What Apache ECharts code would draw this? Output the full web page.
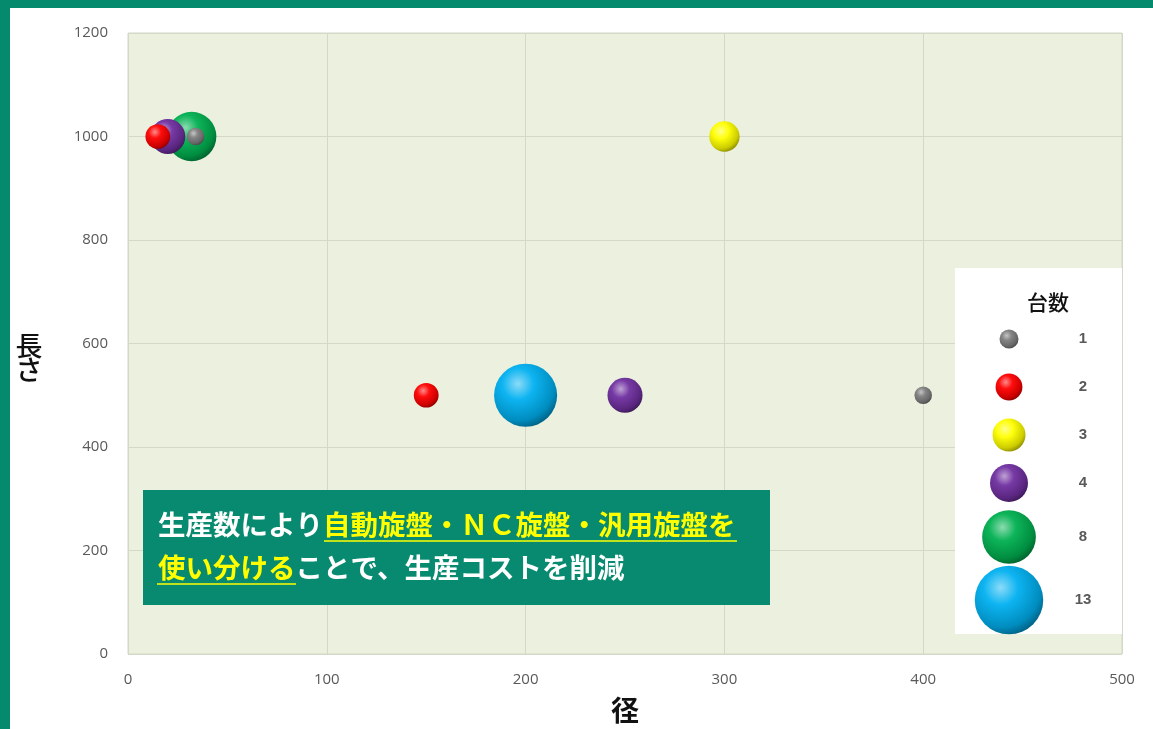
<!DOCTYPE html>
<html>
<head>
<meta charset="utf-8">
<script src="https://cdn.jsdelivr.net/npm/echarts@6/dist/echarts.min.js"></script>
<style>
html,body{margin:0;padding:0;background:#fff;}
#c{width:1153px;height:729px;}
</style>
</head>
<body>
<div id="c"></div>
<script>
// ---- data ----
const diameters = [32, 20, 15, 34, 300, 200, 250, 150, 400];      // 径
const lengths   = [1000, 1000, 1000, 1000, 1000, 500, 500, 500, 500]; // 長さ
const counts    = [8, 4, 2, 1, 3, 13, 4, 2, 1];                   // 台数
const legendCounts = [1, 2, 3, 4, 8, 13];
const legendColors = ['#7f7f7f', '#ff0000', '#ffff00', '#7030a0', '#00b050', '#00b0f0'];
const xTicks = [0, 100, 200, 300, 400, 500];
const yTicks = [0, 200, 400, 600, 800, 1000, 1200];

function shade(hex, f) {
  const n = parseInt(hex.slice(1), 16);
  let r = (n >> 16) & 255, g = (n >> 8) & 255, b = n & 255;
  const m = v => Math.max(0, Math.min(255, Math.round(f >= 0 ? v + (255 - v) * f : v * (1 + f))));
  return 'rgb(' + m(r) + ',' + m(g) + ',' + m(b) + ')';
}
function sphere(hex) {
  return {
    type: 'radial', x: 0.38, y: 0.32, r: 0.72,
    colorStops: [
      { offset: 0, color: shade(hex, 0.55) },
      { offset: 0.35, color: shade(hex, 0.05) },
      { offset: 0.8, color: shade(hex, -0.2) },
      { offset: 1, color: shade(hex, -0.45) }
    ]
  };
}
function colorOf(c) { return legendColors[legendCounts.indexOf(c)]; }

const chart = echarts.init(document.getElementById('c'));

const points = diameters.map((d, i) => ({
  value: [d, lengths[i], counts[i]],
  itemStyle: { color: sphere(colorOf(counts[i])), opacity: 1 }
}));

const graphics = [];
// frame
graphics.push({ type: 'rect', shape: { x: 0, y: 0, width: 1153, height: 8 }, style: { fill: '#068a6e' }, z: 100 });
graphics.push({ type: 'rect', shape: { x: 0, y: 0, width: 10, height: 729 }, style: { fill: '#068a6e' }, z: 100 });
// y axis title (stacked vertically)
graphics.push({ type: 'text', x: 29, y: 346, style: { text: '長', fill: '#111', font: '500 27px "Noto Sans CJK JP"', align: 'center', verticalAlign: 'middle' }, z: 11 });
graphics.push({ type: 'text', x: 29, y: 370, style: { text: 'さ', fill: '#111', font: '500 27px "Noto Sans CJK JP"', align: 'center', verticalAlign: 'middle' }, z: 11 });
// legend box
graphics.push({ type: 'rect', shape: { x: 955, y: 268, width: 167, height: 366 }, style: { fill: '#ffffff' }, z: 10 });
graphics.push({ type: 'text', x: 1048, y: 302, style: { text: '台数', fill: '#111', font: '500 21px "Noto Sans CJK JP"', align: 'center', verticalAlign: 'middle' }, z: 11 });
const legendRows = [339, 387, 435, 483, 537, 600];
legendCounts.forEach((c, i) => {
  const d = 19 * Math.sqrt(c);
  graphics.push({ type: 'circle', shape: { cx: 1009, cy: legendRows[i], r: d / 2 }, style: { fill: sphere(legendColors[i]) }, z: 11 });
  graphics.push({ type: 'text', x: 1083, y: legendRows[i], style: { text: String(c), fill: '#595959', font: 'bold 15px "Liberation Sans"', align: 'center', verticalAlign: 'middle' }, z: 11 });
});
// annotation box
graphics.push({ type: 'rect', shape: { x: 143, y: 490, width: 627, height: 115 }, style: { fill: '#078a6f' }, z: 10 });
const tf = 'bold 27.5px "Noto Sans CJK JP"';
graphics.push({ type: 'text', x: 158, y: 525, style: {
  text: '{w|生産数により}{y|自動旋盤・ＮＣ旋盤・汎用旋盤を}', verticalAlign: 'middle',
  rich: { w: { fill: '#ffffff', font: tf }, y: { fill: '#ffff00', font: tf } } }, z: 11 });
graphics.push({ type: 'text', x: 158, y: 568, style: {
  text: '{y|使い分ける}{w|ことで、生産コストを削減}', verticalAlign: 'middle',
  rich: { w: { fill: '#ffffff', font: tf }, y: { fill: '#ffff00', font: tf } } }, z: 11 });
graphics.push({ type: 'line', shape: { x1: 324, y1: 541, x2: 737, y2: 541 }, style: { stroke: '#ffff00', lineWidth: 1.5 }, z: 11 });
graphics.push({ type: 'line', shape: { x1: 157, y1: 584, x2: 296, y2: 584 }, style: { stroke: '#ffff00', lineWidth: 1.5 }, z: 11 });

chart.setOption({
  animation: false,
  backgroundColor: '#ffffff',
  grid: { left: 128, right: 31, top: 33, bottom: 75, outerBoundsMode: 'none', containLabel: false, show: true, backgroundColor: '#ebf1de', borderColor: '#d3d8c8', borderWidth: 1 },
  xAxis: {
    type: 'value', min: xTicks[0], max: xTicks[xTicks.length - 1], interval: 100,
    name: '径', nameLocation: 'middle', nameGap: 42,
    nameTextStyle: { color: '#111', fontSize: 28, fontWeight: 'bold', fontFamily: 'Noto Sans CJK JP' },
    axisLine: { show: false }, axisTick: { show: false },
    axisLabel: { color: '#595959', fontSize: 15, margin: 18, fontFamily: 'Open Sans' },
    splitLine: { lineStyle: { color: '#d3d8c8', width: 1 } }
  },
  yAxis: {
    type: 'value', min: yTicks[0], max: yTicks[yTicks.length - 1], interval: 200,
    axisLine: { show: false }, axisTick: { show: false },
    axisLabel: { color: '#595959', fontSize: 15, margin: 20, fontFamily: 'Open Sans', formatter: v => String(v) },
    splitLine: { lineStyle: { color: '#d3d8c8', width: 1 } }
  },
  series: [{
    type: 'scatter',
    data: points,
    symbolSize: v => 17.5 * Math.sqrt(v[2]),
    itemStyle: { opacity: 1 },
    z: 5
  }],
  graphic: graphics
});
</script>
</body>
</html>
